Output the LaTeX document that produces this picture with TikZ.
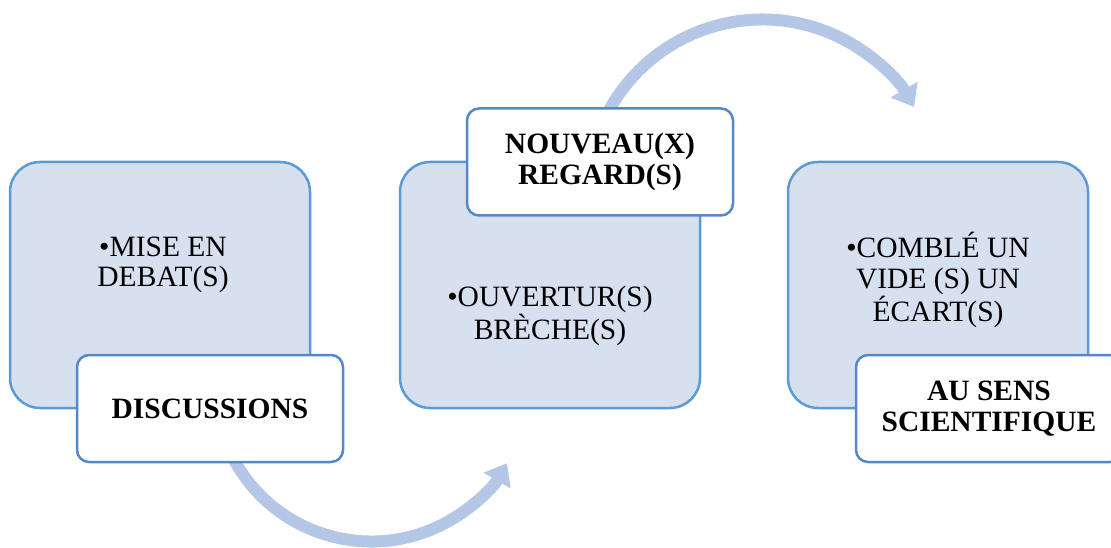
\documentclass[tikz,border=0pt]{standalone}
\usepackage{fontspec}
\setmainfont{Liberation Serif}
\usetikzlibrary{arrows.meta}
\definecolor{boxfill}{RGB}{214,224,239}
\definecolor{boxline}{RGB}{91,155,213}
\definecolor{tagline}{RGB}{84,137,200}
\definecolor{flow}{RGB}{180,199,231}
\tikzset{
  stage/.style={draw=boxline, fill=boxfill, line width=2.5pt, rounded corners=30pt,
    minimum width=300pt, minimum height=246pt, inner sep=0pt},
  tag/.style={draw=tagline, fill=white, line width=2.5pt, rounded corners=12pt,
    minimum width=266pt, minimum height=107pt, inner sep=0pt,
    font=\fontsize{29.5}{30.5}\selectfont\bfseries, align=center},
  body/.style={font=\fontsize{29.5}{30.5}\selectfont, align=center, inner sep=0pt},
  flowarrow/.style={draw=flow, line width=12pt, -{Triangle[width=30pt,length=20pt]}}
}
\begin{document}
\begin{tikzpicture}[x=1pt, y=1pt]
  \useasboundingbox (0,0) rectangle (1111,547);
  \clip (0,0) rectangle (1111,547);

  % curved flow arrows, drawn first so the boxes cover their tails
  \coordinate (turnA) at (371.5,162);
  \coordinate (turnB) at (762.5,352.5);
  \path (turnA) ++(208:156.5pt) coordinate (fromA);
  \path (turnB) ++(152:175pt) coordinate (fromB);
  \draw[flowarrow] (fromA) arc[start angle=208, end angle=330, radius=156.5pt];
  \draw[flowarrow] (fromB) arc[start angle=152, end angle=30, radius=175pt];

  % stage boxes
  \node[stage] (s1) at (160,262) {};
  \node[stage] (s2) at (550,262) {};
  \node[stage] (s3) at (938,262) {};

  % stage texts
  \node[body] (t1) at (163,282) {•MISE EN\\DEBAT(S)};
  \node[body] (t2) at (550,231) {•OUVERTUR(S)\\BRÈCHE(S)};
  \node[body] (t3) at (938,267) {•COMBLÉ UN\\VIDE (S) UN\\ÉCART(S)};

  % labels overlapping the stages
  \node[tag] (g1) at (210,138.5) {DISCUSSIONS};
  \node[tag] (g2) at (600,385) {NOUVEAU(X)\\REGARD(S)};
  \node[tag] (g3) at (989,138.5) {AU SENS\\SCIENTIFIQUE};
\end{tikzpicture}
\end{document}
